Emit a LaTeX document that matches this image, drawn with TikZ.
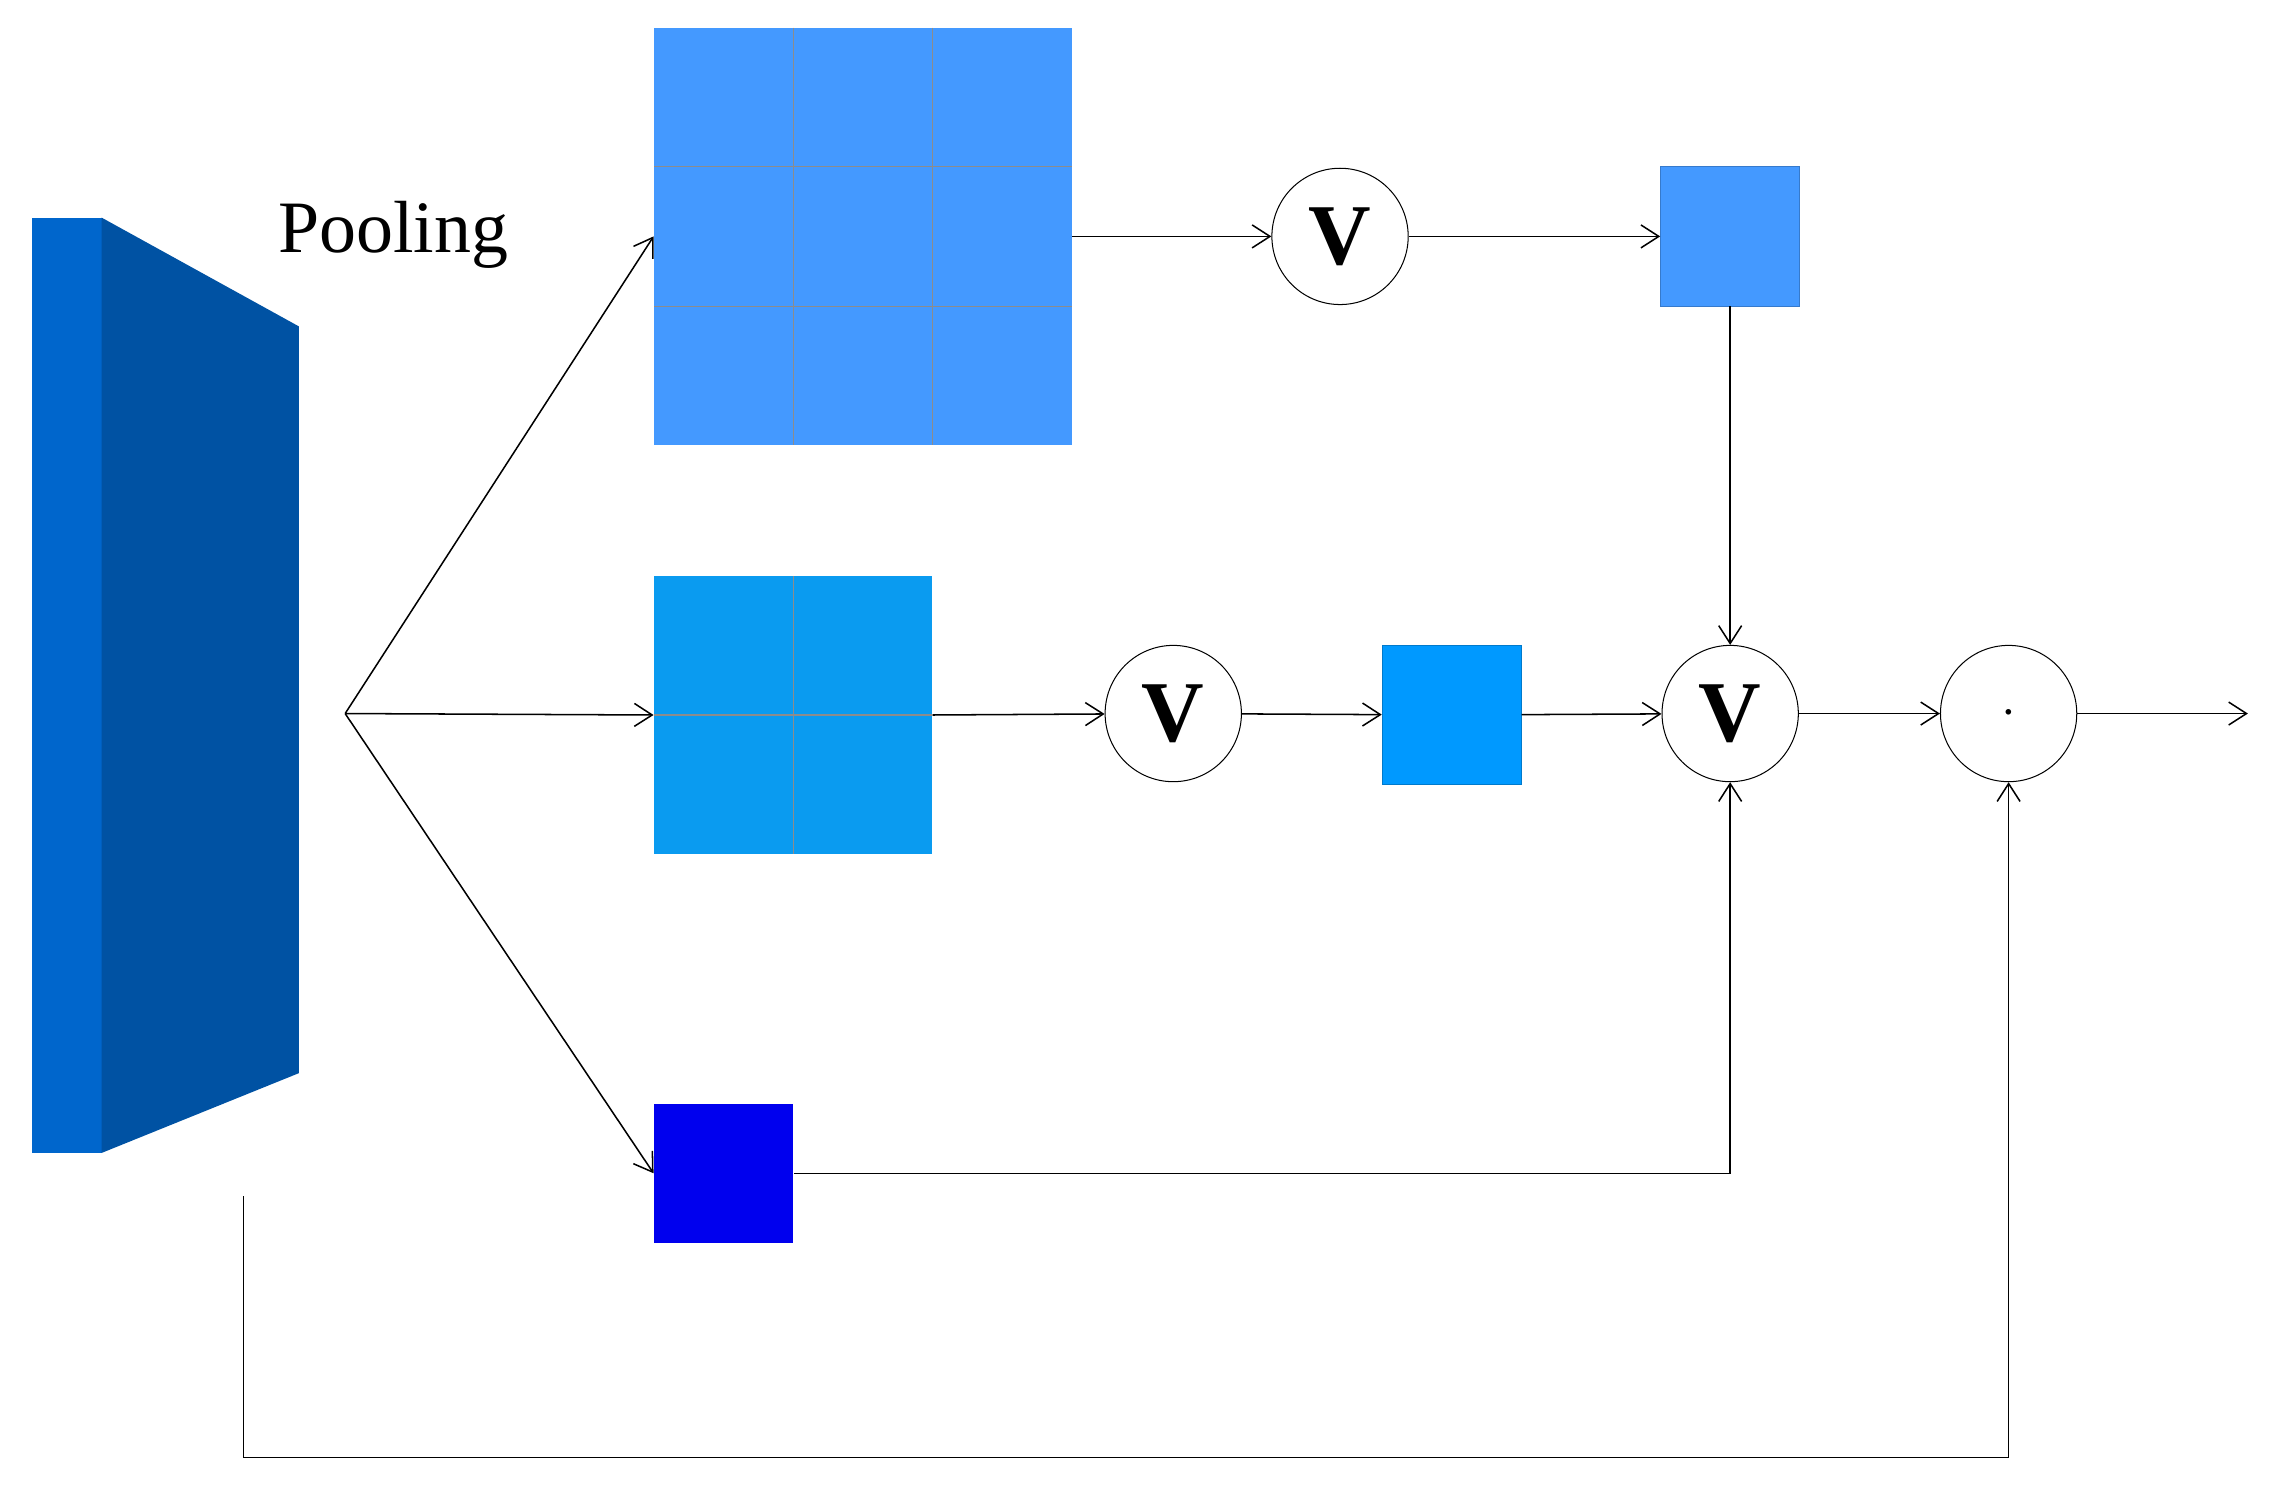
\documentclass[tikz,border=0pt]{standalone}
\usepackage{fontspec}
\setmainfont{Liberation Serif}
\usetikzlibrary{arrows.meta}
\definecolor{prismA}{HTML}{0066CC}
\definecolor{prismB}{HTML}{0052A3}
\definecolor{gA}{HTML}{4499FF}
\definecolor{gB}{HTML}{0A9BF0}
\definecolor{sB}{HTML}{0099FF}
\definecolor{dB}{HTML}{0000EE}
\begin{document}
\begin{tikzpicture}[x=0.02cm,y=-0.02cm,
  arr/.style={-{Straight Barb[length=7pt,width=9pt]},line width=0.6pt},
  ln/.style={line width=0.6pt},
  op/.style={circle,draw,line width=0.4pt,minimum size=1.88cm,inner sep=0pt,font=\fontsize{34}{34}\selectfont\bfseries},
  gridline/.style={draw=black!45,line width=0.4pt}]
\useasboundingbox (0,0) rectangle (1568,1039);
% prism
\fill[prismA] (22,150) rectangle (70,795);
\fill[prismB] (70,150) -- (206,225) -- (206,740) -- (70,795) -- cycle;
\node[font=\fontsize{29}{29}\selectfont,anchor=center] (pool) at (271,162) {Pooling};
\coordinate (br) at (238,492);
% grids
\node[fill=gA,minimum width=5.76cm,minimum height=5.76cm,inner sep=0pt] (g3) at (595,163) {};
\foreach \i in {1,2}{\draw[gridline] (451+96*\i,19) -- (451+96*\i,307); \draw[gridline] (451,19+96*\i) -- (739,19+96*\i);}
\node[fill=gB,minimum width=3.84cm,minimum height=3.84cm,inner sep=0pt] (g2) at (547,493) {};
\draw[gridline] (547,397) -- (547,589); \draw[gridline] (451,493) -- (643,493);
\node[fill=dB,minimum width=1.92cm,minimum height=1.92cm,inner sep=0pt] (g1) at (499,809) {};
% ops
\node[op] (v1) at (924,163) {V};
\node[fill=gA,draw=gA!80!black,line width=0.3pt,minimum width=1.92cm,minimum height=1.92cm,inner sep=0pt] (s1) at (1193,163) {};
\node[op] (v2) at (809,492) {V};
\node[fill=sB,draw=sB!80!black,line width=0.3pt,minimum width=1.92cm,minimum height=1.92cm,inner sep=0pt] (s2) at (1001,493) {};
\node[op] (v3) at (1193,492) {V};
\node[op,font=\fontsize{20}{20}\selectfont\bfseries] (dot) at (1385,492) {$\cdot$};
\coordinate (out) at (1550,492);
% connectors
\draw[arr] (br) -- (g3.west);
\draw[arr] (br) -- (g2.west);
\draw[arr] (br) -- (g1.west);
\draw[arr] (g3.east) -- (v1);
\draw[arr] (v1) -- (s1);
\draw[arr] (s1) -- (v3);
\draw[arr] (g2.east) -- (v2);
\draw[arr] (v2) -- (s2);
\draw[arr] (s2) -- (v3);
\draw[arr] (v3) -- (dot);
\draw[arr] (dot) -- (out);
\draw[arr] (g1.east) -| (v3.south);
\coordinate (sk) at (168,825);
\draw[arr] (sk) |- (1385,1005) -- (dot.south);
\end{tikzpicture}
\end{document}
